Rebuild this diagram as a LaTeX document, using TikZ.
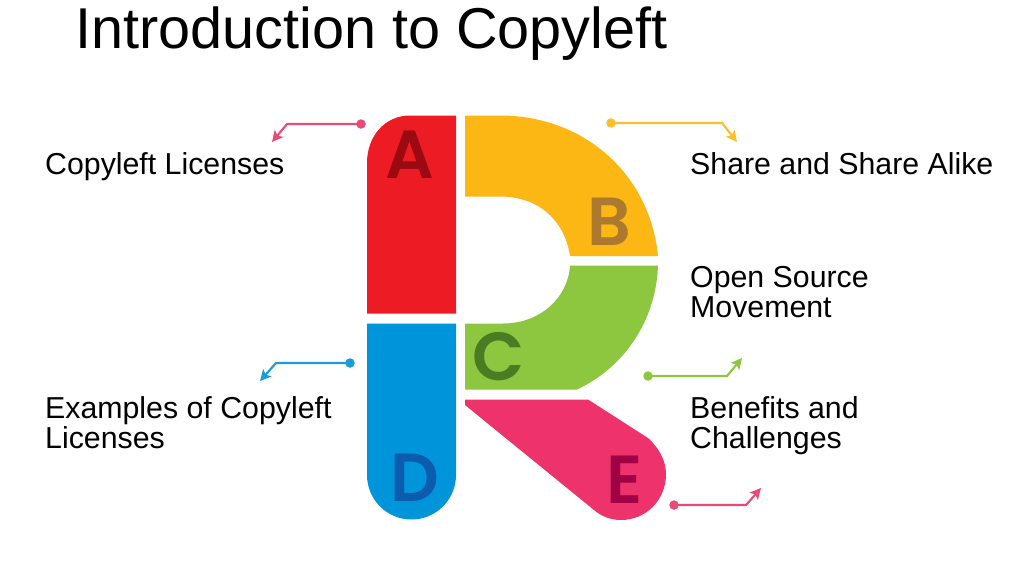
\documentclass[tikz,border=0pt]{standalone}
\usepackage{fontspec}
\setmainfont{Liberation Sans}
\newfontfamily\letterfont{Poppins SemiBold}
\usetikzlibrary{arrows.meta}
\definecolor{cA}{HTML}{ED1C24}
\definecolor{cB}{HTML}{FDB714}
\definecolor{cC}{HTML}{8DC63F}
\definecolor{cD}{HTML}{0095DA}
\definecolor{cE}{HTML}{EE336C}
\definecolor{lA}{HTML}{9A0A10}
\definecolor{lB}{HTML}{AB7A2E}
\definecolor{lC}{HTML}{4A7C23}
\definecolor{lD}{HTML}{0B5BAE}
\definecolor{lE}{HTML}{A00044}
\definecolor{aP}{HTML}{EA4A78}
\definecolor{aY}{HTML}{FBBF2D}
\definecolor{aG}{HTML}{8DC63F}
\definecolor{aB}{HTML}{1B9BD8}
\tikzset{
  x=1pt,y=-1pt,
  lbl/.style={inner sep=0pt,anchor=base west,align=left,font=\fontsize{30.3}{29.5}\selectfont,text=black},
  ttl/.style={inner sep=0pt,anchor=base west,font=\fontsize{57.6}{60}\selectfont,text=black},
  ltr/.style={inner sep=0pt,font=\letterfont\fontsize{68}{68}\selectfont},
  dot/.style={circle,fill=#1,inner sep=0pt,minimum size=9.5pt},
  conn/.style={draw=#1,line width=2.1pt,-{Stealth[length=11pt,width=11pt,inset=2.5pt]}},
}
\begin{document}
\begin{tikzpicture}
\useasboundingbox (0,0) rectangle (1024,576);
\fill[white] (0,0) rectangle (1024,576);

\node[ttl] (title) at (75,48.5) {Introduction to Copyleft};

% R shapes
\fill[cA] (456,115.5) -- (456,313.5) -- (367,313.5) -- (367,163)
  .. controls (367,136) and (385,115.5) .. (410,115.5) -- cycle;
\fill[cB] (465,115.5) -- (500,115.5)
  .. controls (585,115.5) and (650,175) .. (658,256)
  -- (570,256)
  .. controls (565,222) and (540,196.5) .. (500,196.5)
  -- (465,196.5) -- cycle;
\fill[cC] (570,265.5) -- (658,265.5)
  .. controls (656,320) and (625,367) .. (577,389.5)
  -- (465,389.5) -- (465,323.5) -- (503,323.5)
  .. controls (540,323.5) and (568,298) .. (570,265.5) -- cycle;
\fill[cD] (367,323.5) -- (456,323.5) -- (456,475)
  arc[start angle=0,end angle=180,radius=44.5,y=-1pt] -- cycle;
\fill[cE] (465,399.5) -- (588,399.5) -- (648,438)
  .. controls (658,447) and (666,460) .. (666,474)
  .. controls (666,500) and (646,520) .. (621,520)
  .. controls (610,520) and (601,516) .. (594,510)
  -- (465,405) -- cycle;

% letters
\node[ltr,text=lA] (la) at (409.5,155) {A};
\node[ltr,text=lB] (lb) at (609,221.5) {B};
\node[ltr,text=lC] (lc) at (498.5,357) {C};
\node[ltr,text=lD] (ld) at (414.5,478) {D};
\node[ltr,text=lE] (le) at (625,480) {E};

% labels
\node[lbl] (t1) at (45,174) {Copyleft Licenses};
\node[lbl] (t2) at (690,174) {Share and Share Alike};
\node[lbl] (t3) at (690,317) {Open Source\\Movement};
\node[lbl] (t4) at (45,448) {Examples of Copyleft\\Licenses};
\node[lbl] (t5) at (690,448) {Benefits and\\Challenges};

% connectors
\node[dot=aP] (d1) at (361,124) {};
\coordinate (b1) at (287,124); \coordinate (e1) at (272,142);
\draw[conn=aP] (d1.center) -- (b1) -- (e1);
\node[dot=aY] (d2) at (611,123) {};
\coordinate (b2) at (722,123); \coordinate (e2) at (737,142);
\draw[conn=aY] (d2.center) -- (b2) -- (e2);
\node[dot=aG] (d3) at (648,376) {};
\coordinate (b3) at (727,376); \coordinate (e3) at (742,358);
\draw[conn=aG] (d3.center) -- (b3) -- (e3);
\node[dot=aP] (d4) at (674,505) {};
\coordinate (b4) at (746,505); \coordinate (e4) at (761,488);
\draw[conn=aP] (d4.center) -- (b4) -- (e4);
\node[dot=aB] (d5) at (350,363) {};
\coordinate (b5) at (276,363); \coordinate (e5) at (260,381);
\draw[conn=aB] (d5.center) -- (b5) -- (e5);
\end{tikzpicture}
\end{document}
